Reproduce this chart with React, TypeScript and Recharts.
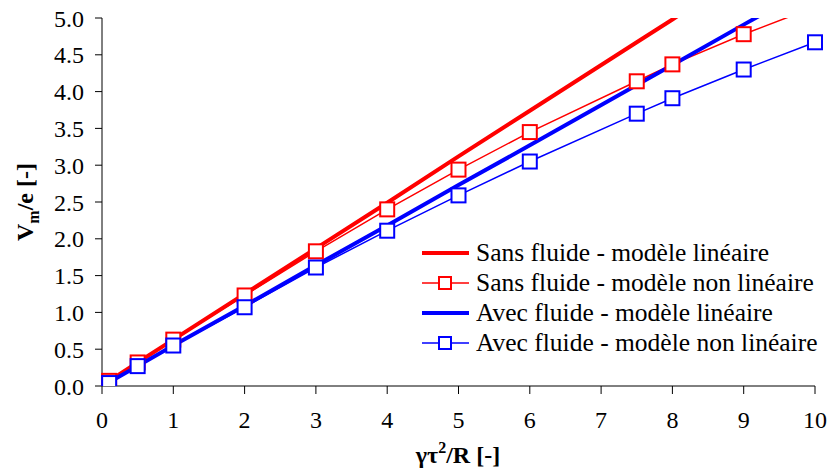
import React from 'react';
import { LineChart, Line, XAxis, YAxis } from 'recharts';

// values
const xValues = [0.1, 0.5, 1, 2, 3, 4, 5, 6, 7.5, 8, 9, 10];
const sansLineaire = [0.07, 0.32, 0.63, 1.25, 1.87, 2.49, 3.12, 3.74, 4.67, 4.98, 5.61, 6.23];
const sansNonLineaire = [0.07, 0.32, 0.63, 1.23, 1.83, 2.4, 2.94, 3.45, 4.14, 4.37, 4.78, 5.15];
const avecLineaire = [0.05, 0.27, 0.55, 1.09, 1.64, 2.18, 2.73, 3.27, 4.09, 4.36, 4.91, 5.45];
const avecNonLineaire = [0.04, 0.27, 0.55, 1.07, 1.61, 2.11, 2.59, 3.05, 3.7, 3.91, 4.3, 4.67];

const xTicks = [0, 1, 2, 3, 4, 5, 6, 7, 8, 9, 10];
const yTicks = [0, 0.5, 1, 1.5, 2, 2.5, 3, 3.5, 4, 4.5, 5];

const RED = '#ff0000';
const BLUE = '#0000ff';
const FONT = 'Liberation Serif, Tinos, Times New Roman, DejaVu Serif, serif';

const series = [
  { key: 'sansLin', name: 'Sans fluide - modèle linéaire', color: RED, marker: false },
  { key: 'sansNon', name: 'Sans fluide - modèle non linéaire', color: RED, marker: true },
  { key: 'avecLin', name: 'Avec fluide - modèle linéaire', color: BLUE, marker: false },
  { key: 'avecNon', name: 'Avec fluide - modèle non linéaire', color: BLUE, marker: true },
];

const data = xValues.map((x, i) => ({
  x,
  sansLin: sansLineaire[i],
  sansNon: sansNonLineaire[i],
  avecLin: avecLineaire[i],
  avecNon: avecNonLineaire[i],
}));

const SquareDot = (color: string) => (props: any) => {
  const { cx, cy, index } = props;
  if (cx == null || cy == null) return <g key={index} />;
  return (
    <rect
      key={index}
      x={cx - 7}
      y={cy - 7}
      width={14}
      height={14}
      fill="#fff"
      stroke={color}
      strokeWidth={2}
    />
  );
};

const LegendBox = () => (
  <div style={{ position: 'absolute', left: 421, top: 238, fontFamily: FONT, fontSize: 25.5, color: '#000' }}>
    {series.map(s => (
      <div key={s.key} style={{ display: 'flex', alignItems: 'center', height: 30 }}>
        <svg width={50} height={16} style={{ marginRight: 5 }}>
          <line x1={1} y1={8} x2={48} y2={8} stroke={s.color} strokeWidth={s.marker ? 1.5 : 4} />
          {s.marker && <rect x={18} y={2} width={12} height={12} fill="#fff" stroke={s.color} strokeWidth={2} />}
        </svg>
        <span style={{ whiteSpace: 'nowrap', lineHeight: '30px' }}>{s.name}</span>
      </div>
    ))}
  </div>
);

const YTitle = () => (
  <text
    transform="translate(33, 202) rotate(-90)"
    textAnchor="middle"
    fontFamily={FONT}
    fontSize={24}
    fontWeight="bold"
    fill="#000"
  >
    V<tspan fontSize={16} dy={6}>m</tspan><tspan dy={-6}>/e [-]</tspan>
  </text>
);

const XTitle = () => (
  <text x={458} y={463} textAnchor="middle" fontFamily={FONT} fontSize={24} fontWeight="bold" fill="#000">
    γτ<tspan fontSize={16} dy={-10}>2</tspan><tspan dy={10}>/R [-]</tspan>
  </text>
);

export default function App() {
  return (
    <div style={{ position: 'absolute', left: 0, top: 0, width: 829, height: 472, background: '#fff' }}>
      <LineChart width={829} height={472} data={data} margin={{ top: 18, right: 14, bottom: 0, left: 0 }}>
        <XAxis
          dataKey="x"
          type="number"
          domain={[0, 10]}
          ticks={xTicks}
          interval={0}
          height={86}
          stroke="#000"
          tickSize={8}
          tickMargin={17}
          tick={{ fill: '#000', fontFamily: FONT, fontSize: 24 }}
        />
        <YAxis
          type="number"
          domain={[0, 5]}
          ticks={yTicks}
          interval={0}
          allowDataOverflow
          width={102}
          stroke="#000"
          tickSize={7}
          tickMargin={11}
          tickFormatter={(v: number) => v.toFixed(1)}
          tick={{ fill: '#000', fontFamily: FONT, fontSize: 24 }}
        />
        {series.map(s => (
          <Line
            key={s.key}
            dataKey={s.key}
            name={s.name}
            type="linear"
            stroke={s.color}
            strokeWidth={s.marker ? 1.5 : 4}
            dot={s.marker ? SquareDot(s.color) : false}
            activeDot={false}
            isAnimationActive={false}
          />
        ))}
        <YTitle />
        <XTitle />
      </LineChart>
      <LegendBox />
    </div>
  );
}
